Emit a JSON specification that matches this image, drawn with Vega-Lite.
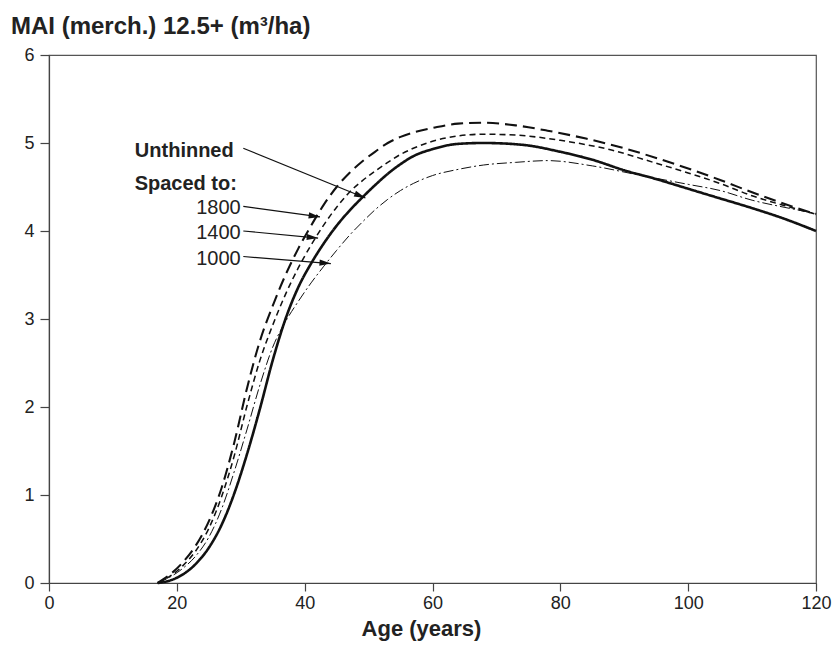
{
  "$schema": "https://vega.github.io/schema/vega-lite/v6.json",
  "width": 767,
  "height": 528,
  "autosize": {"type": "none"},
  "padding": {"left": 49, "top": 55, "right": 23, "bottom": 80},
  "background": "white",
  "config": {
    "font": "Liberation Sans",
    "view": {"stroke": "#555555", "strokeWidth": 1.2},
    "axis": {"grid": false, "domainColor": "#444444", "tickColor": "#444444", "labelColor": "#222222", "titleColor": "#222222"}
  },
  "title": {
    "text": "MAI (merch.) 12.5+ (m³/ha)",
    "anchor": "start",
    "frame": "group",
    "dx": -38,
    "offset": 7,
    "fontSize": 24,
    "fontWeight": "bold",
    "color": "#222222",
    "font": "Liberation Sans"
  },
  "datasets": {
    "curves": [
      {"series": "Unthinned", "age": 17, "mai": 0},
      {"series": "Unthinned", "age": 19, "mai": 0.03},
      {"series": "Unthinned", "age": 21, "mai": 0.1},
      {"series": "Unthinned", "age": 23, "mai": 0.22},
      {"series": "Unthinned", "age": 25, "mai": 0.4},
      {"series": "Unthinned", "age": 27, "mai": 0.66},
      {"series": "Unthinned", "age": 29, "mai": 1.02},
      {"series": "Unthinned", "age": 31, "mai": 1.47},
      {"series": "Unthinned", "age": 33, "mai": 1.98},
      {"series": "Unthinned", "age": 35, "mai": 2.53},
      {"series": "Unthinned", "age": 37, "mai": 3.0},
      {"series": "Unthinned", "age": 39, "mai": 3.36},
      {"series": "Unthinned", "age": 41, "mai": 3.63},
      {"series": "Unthinned", "age": 43, "mai": 3.86},
      {"series": "Unthinned", "age": 45, "mai": 4.06},
      {"series": "Unthinned", "age": 47, "mai": 4.23},
      {"series": "Unthinned", "age": 49, "mai": 4.38},
      {"series": "Unthinned", "age": 51, "mai": 4.52},
      {"series": "Unthinned", "age": 53, "mai": 4.65},
      {"series": "Unthinned", "age": 55, "mai": 4.76},
      {"series": "Unthinned", "age": 57, "mai": 4.85},
      {"series": "Unthinned", "age": 60, "mai": 4.93},
      {"series": "Unthinned", "age": 64, "mai": 4.99},
      {"series": "Unthinned", "age": 68, "mai": 5.0},
      {"series": "Unthinned", "age": 74, "mai": 4.98},
      {"series": "Unthinned", "age": 80, "mai": 4.9},
      {"series": "Unthinned", "age": 85, "mai": 4.81},
      {"series": "Unthinned", "age": 90, "mai": 4.69},
      {"series": "Unthinned", "age": 95, "mai": 4.59},
      {"series": "Unthinned", "age": 100, "mai": 4.48},
      {"series": "Unthinned", "age": 105, "mai": 4.37},
      {"series": "Unthinned", "age": 110, "mai": 4.26},
      {"series": "Unthinned", "age": 115, "mai": 4.14},
      {"series": "Unthinned", "age": 120, "mai": 4.0},

      {"series": "1800", "age": 17, "mai": 0},
      {"series": "1800", "age": 19, "mai": 0.1},
      {"series": "1800", "age": 21, "mai": 0.24},
      {"series": "1800", "age": 23, "mai": 0.43},
      {"series": "1800", "age": 25, "mai": 0.7},
      {"series": "1800", "age": 27, "mai": 1.08},
      {"series": "1800", "age": 29, "mai": 1.6},
      {"series": "1800", "age": 31, "mai": 2.22},
      {"series": "1800", "age": 33, "mai": 2.75},
      {"series": "1800", "age": 35, "mai": 3.15},
      {"series": "1800", "age": 37, "mai": 3.5},
      {"series": "1800", "age": 39, "mai": 3.8},
      {"series": "1800", "age": 41, "mai": 4.06},
      {"series": "1800", "age": 43, "mai": 4.3},
      {"series": "1800", "age": 45, "mai": 4.5},
      {"series": "1800", "age": 47, "mai": 4.66},
      {"series": "1800", "age": 49, "mai": 4.79},
      {"series": "1800", "age": 51, "mai": 4.9},
      {"series": "1800", "age": 53, "mai": 5.0},
      {"series": "1800", "age": 55, "mai": 5.07},
      {"series": "1800", "age": 57, "mai": 5.12},
      {"series": "1800", "age": 60, "mai": 5.17},
      {"series": "1800", "age": 64, "mai": 5.22},
      {"series": "1800", "age": 68, "mai": 5.23},
      {"series": "1800", "age": 73, "mai": 5.2},
      {"series": "1800", "age": 78, "mai": 5.14},
      {"series": "1800", "age": 84, "mai": 5.05},
      {"series": "1800", "age": 90, "mai": 4.94},
      {"series": "1800", "age": 95, "mai": 4.83},
      {"series": "1800", "age": 100, "mai": 4.71},
      {"series": "1800", "age": 105, "mai": 4.58},
      {"series": "1800", "age": 110, "mai": 4.44},
      {"series": "1800", "age": 115, "mai": 4.31},
      {"series": "1800", "age": 120, "mai": 4.19},

      {"series": "1400", "age": 17, "mai": 0},
      {"series": "1400", "age": 19, "mai": 0.08},
      {"series": "1400", "age": 21, "mai": 0.2},
      {"series": "1400", "age": 23, "mai": 0.37},
      {"series": "1400", "age": 25, "mai": 0.62},
      {"series": "1400", "age": 27, "mai": 0.98},
      {"series": "1400", "age": 29, "mai": 1.45},
      {"series": "1400", "age": 31, "mai": 2.02},
      {"series": "1400", "age": 33, "mai": 2.53},
      {"series": "1400", "age": 35, "mai": 2.93},
      {"series": "1400", "age": 37, "mai": 3.28},
      {"series": "1400", "age": 39, "mai": 3.58},
      {"series": "1400", "age": 41, "mai": 3.84},
      {"series": "1400", "age": 43, "mai": 4.07},
      {"series": "1400", "age": 45, "mai": 4.27},
      {"series": "1400", "age": 47, "mai": 4.44},
      {"series": "1400", "age": 49, "mai": 4.57},
      {"series": "1400", "age": 51, "mai": 4.68},
      {"series": "1400", "age": 53, "mai": 4.78},
      {"series": "1400", "age": 55, "mai": 4.87},
      {"series": "1400", "age": 57, "mai": 4.94},
      {"series": "1400", "age": 60, "mai": 5.02},
      {"series": "1400", "age": 64, "mai": 5.08},
      {"series": "1400", "age": 68, "mai": 5.1},
      {"series": "1400", "age": 73, "mai": 5.09},
      {"series": "1400", "age": 80, "mai": 5.03},
      {"series": "1400", "age": 88, "mai": 4.92},
      {"series": "1400", "age": 95, "mai": 4.77},
      {"series": "1400", "age": 100, "mai": 4.66},
      {"series": "1400", "age": 105, "mai": 4.54},
      {"series": "1400", "age": 110, "mai": 4.4},
      {"series": "1400", "age": 115, "mai": 4.29},
      {"series": "1400", "age": 120, "mai": 4.19},

      {"series": "1000", "age": 17, "mai": 0},
      {"series": "1000", "age": 19, "mai": 0.07},
      {"series": "1000", "age": 21, "mai": 0.17},
      {"series": "1000", "age": 23, "mai": 0.31},
      {"series": "1000", "age": 25, "mai": 0.52},
      {"series": "1000", "age": 27, "mai": 0.84},
      {"series": "1000", "age": 29, "mai": 1.27},
      {"series": "1000", "age": 31, "mai": 1.75},
      {"series": "1000", "age": 33, "mai": 2.25},
      {"series": "1000", "age": 35, "mai": 2.68},
      {"series": "1000", "age": 37, "mai": 2.97},
      {"series": "1000", "age": 39, "mai": 3.2},
      {"series": "1000", "age": 41, "mai": 3.41},
      {"series": "1000", "age": 43, "mai": 3.6},
      {"series": "1000", "age": 45, "mai": 3.78},
      {"series": "1000", "age": 47, "mai": 3.95},
      {"series": "1000", "age": 49, "mai": 4.1},
      {"series": "1000", "age": 51, "mai": 4.24},
      {"series": "1000", "age": 53, "mai": 4.36},
      {"series": "1000", "age": 55, "mai": 4.46},
      {"series": "1000", "age": 57, "mai": 4.54},
      {"series": "1000", "age": 60, "mai": 4.63},
      {"series": "1000", "age": 64, "mai": 4.7},
      {"series": "1000", "age": 68, "mai": 4.75},
      {"series": "1000", "age": 73, "mai": 4.78},
      {"series": "1000", "age": 78, "mai": 4.8},
      {"series": "1000", "age": 85, "mai": 4.74},
      {"series": "1000", "age": 92, "mai": 4.64},
      {"series": "1000", "age": 100, "mai": 4.53},
      {"series": "1000", "age": 105, "mai": 4.46},
      {"series": "1000", "age": 110, "mai": 4.35},
      {"series": "1000", "age": 115, "mai": 4.27},
      {"series": "1000", "age": 120, "mai": 4.2}
    ],
    "labels": [
      {"label": "Unthinned", "kind": "bold", "x": 28.9, "y": 4.91},
      {"label": "Spaced to:", "kind": "bold", "x": 29.4, "y": 4.53},
      {"label": "1800", "kind": "plain", "x": 30.0, "y": 4.26},
      {"label": "1400", "kind": "plain", "x": 30.0, "y": 3.98},
      {"label": "1000", "kind": "plain", "x": 30.0, "y": 3.68}
    ],
    "arrows": [
      {"label": "Unthinned", "x1": 30.4, "y1": 4.94, "x2": 49.5, "y2": 4.375},
      {"label": "1800", "x1": 30.4, "y1": 4.28, "x2": 42.4, "y2": 4.16},
      {"label": "1400", "x1": 30.4, "y1": 4.0, "x2": 42.1, "y2": 3.92},
      {"label": "1000", "x1": 30.4, "y1": 3.71, "x2": 44.1, "y2": 3.63}
    ]
  },
  "layer": [
    {
      "data": {"name": "curves"},
      "mark": {"type": "line", "interpolate": "monotone", "color": "#111111", "strokeCap": "butt"},
      "encoding": {
        "x": {
          "field": "age", "type": "quantitative",
          "scale": {"domain": [0, 120], "nice": false, "zero": true},
          "axis": {
            "values": [0, 20, 40, 60, 80, 100, 120],
            "format": "d",
            "title": "Age (years)",
            "titleFontSize": 22, "titleFontWeight": "bold", "titlePadding": 6, "titleX": 372,
            "labelFontSize": 18, "labelPadding": 3, "tickSize": 8, "labelFlush": false,
            "domainWidth": 1.2, "tickWidth": 1.2
          }
        },
        "y": {
          "field": "mai", "type": "quantitative",
          "scale": {"domain": [0, 6], "nice": false},
          "axis": {
            "values": [0, 1, 2, 3, 4, 5, 6],
            "format": "d",
            "title": null,
            "labelFontSize": 18, "labelPadding": 6, "tickSize": 9,
            "domainWidth": 1.2, "tickWidth": 1.2
          }
        },
        "detail": {"field": "series"},
        "strokeDash": {
          "field": "series", "type": "nominal",
          "scale": {"domain": ["Unthinned", "1800", "1400", "1000"], "range": [[1, 0], [12, 6], [6, 4], [10, 3, 2, 3]]},
          "legend": null
        },
        "strokeWidth": {
          "field": "series", "type": "nominal",
          "scale": {"domain": ["Unthinned", "1800", "1400", "1000"], "range": [2.6, 1.0, 1.0, 1.0]},
          "legend": null
        }
      }
    },
    {
      "data": {"name": "arrows"},
      "mark": {"type": "rule", "color": "#111111", "strokeWidth": 1.2},
      "encoding": {
        "x": {"field": "x1", "type": "quantitative"},
        "y": {"field": "y1", "type": "quantitative"},
        "x2": {"field": "x2"},
        "y2": {"field": "y2"}
      }
    },
    {
      "data": {"name": "arrows"},
      "transform": [
        {"calculate": "atan2(-(datum.y2 - datum.y1) * 88, (datum.x2 - datum.x1) * 6.392) * 180 / PI", "as": "ang"}
      ],
      "mark": {"type": "point", "shape": "M0,0L-2.4,-0.65L-2.4,0.65Z", "filled": true, "color": "#111111", "size": 90, "opacity": 1},
      "encoding": {
        "x": {"field": "x2", "type": "quantitative"},
        "y": {"field": "y2", "type": "quantitative"},
        "angle": {"field": "ang", "type": "quantitative", "scale": null}
      }
    },
    {
      "data": {"name": "labels"},
      "transform": [{"filter": "datum.kind == 'bold'"}],
      "mark": {"type": "text", "align": "right", "baseline": "middle", "fontSize": 20, "fontWeight": "bold", "color": "#222222", "font": "Liberation Sans"},
      "encoding": {
        "x": {"field": "x", "type": "quantitative"},
        "y": {"field": "y", "type": "quantitative"},
        "text": {"field": "label"}
      }
    },
    {
      "data": {"name": "labels"},
      "transform": [{"filter": "datum.kind == 'plain'"}],
      "mark": {"type": "text", "align": "right", "baseline": "middle", "fontSize": 20, "color": "#222222", "font": "Liberation Sans"},
      "encoding": {
        "x": {"field": "x", "type": "quantitative"},
        "y": {"field": "y", "type": "quantitative"},
        "text": {"field": "label"}
      }
    }
  ]
}
